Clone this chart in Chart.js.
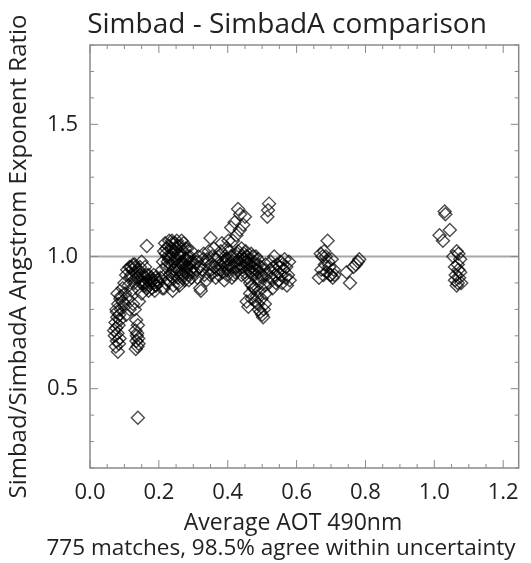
<!DOCTYPE html>
<html>
<head>
<meta charset="utf-8">
<script src="https://cdn.jsdelivr.net/npm/chart.js@4"></script>
<style>
  body { margin: 0; background: #fff; }
</style>
</head>
<body>
<canvas id="myChart" width="531" height="563"></canvas>
<script>
// matches, grouped by AOT range: [aot, ratio]
const lowAotColumn = [
  [0.075,0.66],[0.078,0.68],[0.072,0.70],[0.080,0.71],[0.076,0.73],[0.083,0.74],[0.074,0.75],
  [0.079,0.77],[0.085,0.78],[0.077,0.80],[0.082,0.82],[0.088,0.84],[0.080,0.86],[0.090,0.85],
  [0.086,0.69],[0.070,0.72],[0.081,0.64],[0.084,0.67],[0.090,0.80],[0.095,0.83],[0.078,0.79],
  [0.087,0.76],
  [0.133,0.65],[0.138,0.66],[0.135,0.68],[0.140,0.69],[0.136,0.70],[0.132,0.72],[0.139,0.74],
  [0.134,0.76],[0.141,0.67],[0.137,0.71],[0.139,0.39]
];
const risingAot = [
  [0.095,0.88],[0.100,0.90],[0.102,0.86],[0.105,0.93],[0.108,0.95],[0.110,0.84],[0.112,0.89],
  [0.115,0.96],[0.118,0.92],[0.120,0.87],[0.122,0.95],[0.125,0.97],[0.128,0.90],[0.130,0.94],
  [0.132,0.96],[0.135,0.92],[0.138,0.88],[0.140,0.95],[0.142,0.83],[0.145,0.93],[0.148,0.90],
  [0.150,0.86],[0.152,0.91],[0.155,0.93],[0.158,0.89],[0.160,0.92],[0.162,0.90],[0.165,1.04],
  [0.165,0.88],[0.168,0.91],[0.170,0.93],[0.172,0.89],[0.175,0.90],[0.178,0.92],[0.180,0.88],
  [0.182,0.91],[0.185,0.90],[0.188,0.87],[0.190,0.92],[0.192,0.89],[0.195,0.91],[0.198,0.90],
  [0.150,0.98],[0.125,0.82],[0.115,0.80],[0.105,0.78],[0.130,0.80],[0.145,0.96],[0.160,0.96],
  [0.170,0.87],[0.120,0.93],[0.100,0.82],[0.120,0.96],[0.130,0.97],[0.140,0.92],[0.155,0.90],
  [0.165,0.93],[0.175,0.91],[0.185,0.93],[0.190,0.89]
];
const denseAot = [
  [0.205,0.92],[0.210,0.95],[0.212,0.98],[0.215,1.02],[0.218,1.05],[0.220,0.90],[0.222,0.96],
  [0.225,1.00],[0.228,1.04],[0.230,1.06],[0.232,0.93],[0.235,0.97],[0.238,1.01],[0.240,1.05],
  [0.242,0.89],[0.245,0.95],[0.248,0.99],[0.250,1.03],[0.252,1.06],[0.255,0.92],[0.258,0.97],
  [0.260,1.00],[0.262,1.04],[0.265,0.94],[0.268,0.98],[0.270,1.02],[0.272,1.05],[0.275,0.91],
  [0.278,0.96],[0.280,0.99],[0.282,1.03],[0.285,0.93],[0.288,0.97],[0.290,1.00],[0.292,0.95],
  [0.295,0.92],[0.298,0.98],[0.300,0.96],[0.215,0.88],[0.228,0.91],[0.240,0.87],[0.260,0.89],
  [0.270,0.93],[0.250,0.96],[0.235,1.03],[0.220,1.01],[0.245,1.02],[0.255,1.01],[0.265,0.97],
  [0.275,0.99],[0.285,0.96],[0.210,0.88],
  [0.218,0.93],[0.222,1.03],[0.226,0.98],[0.232,1.00],[0.236,0.94],[0.238,1.06],[0.243,0.98],
  [0.247,1.05],[0.252,0.94],[0.256,1.04],[0.258,0.90],[0.263,1.01],[0.266,1.06],[0.268,0.92],
  [0.273,0.97],[0.277,1.03],[0.281,0.94],[0.284,1.00],[0.287,0.91],[0.291,0.98],[0.294,1.02],
  [0.297,0.94],[0.230,0.99],[0.250,0.99],[0.260,0.95],[0.240,0.92],
  [0.305,0.94],[0.310,0.98],[0.312,0.92],[0.315,1.00],[0.318,0.96],[0.320,0.88],[0.322,0.87],
  [0.325,0.95],[0.328,0.99],[0.330,1.01],[0.332,0.93],[0.335,0.97],[0.338,0.91],[0.340,0.99],
  [0.343,0.95],[0.345,1.02],[0.348,0.93],[0.350,1.07],[0.352,0.97],[0.355,1.00],[0.358,0.94],
  [0.360,1.03],[0.362,0.96],[0.365,0.92],[0.368,0.99]
];
const midAot = [
  [0.370,0.95],[0.372,1.00],[0.375,0.93],[0.378,0.97],[0.380,1.02],[0.383,1.05],[0.385,0.94],
  [0.388,0.98],[0.390,0.91],[0.392,1.00],[0.395,0.96],[0.398,0.93],[0.400,0.99],[0.402,1.06],
  [0.405,0.95],[0.408,0.97],[0.410,1.11],[0.412,0.92],[0.415,1.00],[0.418,0.96],[0.420,1.13],
  [0.422,0.94],[0.425,0.98],[0.428,1.01],[0.430,1.18],[0.432,0.95],[0.435,1.10],[0.436,1.16],
  [0.438,0.97],[0.440,0.93],[0.442,1.00],[0.445,0.96],[0.448,0.99],[0.450,0.94],[0.452,1.02],
  [0.455,0.97],[0.458,0.92],[0.460,0.99],[0.462,0.95],[0.465,0.90],[0.468,1.01],[0.470,0.96],
  [0.472,0.93],[0.475,0.98],[0.478,0.88],[0.480,0.95],[0.482,1.00],[0.485,0.92],[0.488,0.97],
  [0.490,0.94],[0.492,0.90],[0.495,0.96],[0.498,0.93],[0.440,1.03],[0.425,1.08],[0.415,1.06],
  [0.395,1.03],[0.405,1.02],[0.450,1.15],[0.445,1.12],
  [0.402,0.97],[0.410,1.00],[0.418,0.93],[0.425,0.96],[0.430,1.02],[0.435,0.99],[0.440,0.96],
  [0.447,1.01],[0.453,0.98],[0.457,1.00],[0.463,0.97],[0.467,0.94],[0.473,1.00],[0.478,0.97],
  [0.483,0.95],[0.487,0.99],[0.390,0.97],[0.380,0.95],[0.395,0.99],
  [0.455,0.83],[0.460,0.81],[0.465,0.86],[0.470,0.84],[0.475,0.88],[0.480,0.83],[0.485,0.85],
  [0.488,0.82],[0.490,0.80],[0.495,0.79],[0.498,0.84],[0.500,0.78],[0.503,0.77],[0.505,0.80],
  [0.508,0.82],[0.510,0.86],[0.470,0.89],[0.492,0.87]
];
const upperMidAot = [
  [0.500,0.92],[0.505,0.95],[0.508,0.89],[0.510,0.97],[0.513,0.93],[0.515,1.15],[0.517,1.175],
  [0.520,1.20],[0.520,0.90],[0.523,0.95],[0.525,0.98],[0.528,0.92],[0.530,0.88],[0.533,0.96],
  [0.535,1.00],[0.538,0.93],[0.540,0.90],[0.543,0.97],[0.545,0.94],[0.548,0.91],[0.550,0.96],
  [0.553,0.98],[0.555,0.93],[0.558,0.90],[0.560,0.97],[0.562,0.95],[0.565,0.99],[0.568,0.92],
  [0.570,0.96],[0.572,0.89],[0.575,0.93],[0.578,0.98],[0.580,0.91],
  [0.665,0.92],[0.670,1.01],[0.672,0.95],[0.675,1.00],[0.678,0.93],[0.680,1.02],[0.682,0.97],
  [0.685,1.00],[0.688,0.94],[0.690,1.06],[0.692,0.98],[0.695,0.96],[0.698,0.93],[0.700,0.93],
  [0.702,0.99],[0.705,0.92],[0.708,0.95],[0.710,0.93],
  [0.745,0.94],[0.755,0.90],[0.765,0.96],[0.772,0.97],[0.778,0.98],[0.782,0.99]
];
const highAot = [
  [1.015,1.08],[1.025,1.06],[1.030,1.17],[1.032,1.16],[1.045,1.10],[1.055,1.00],[1.060,0.96],
  [1.062,0.93],[1.065,1.02],[1.068,0.90],[1.070,1.01],[1.072,0.92],[1.075,0.94],[1.078,0.90],
  [1.065,0.89],[1.070,0.95],[1.060,0.91],[1.075,0.99],[1.068,0.97]
];
const refLine = [[0, 1.0], [1.245, 1.0]];
const chartTitle = 'Simbad - SimbadA comparison';
const xTitle = 'Average AOT 490nm';
const xNote = '775 matches, 98.5% agree within uncertainty';

const toPts = arr => arr.map(p => ({x: p[0], y: p[1]}));
const allMatches = [].concat(lowAotColumn, risingAot, denseAot, midAot, upperMidAot, highAot);

const FONT = "'Open Sans', sans-serif";
const AXIS_GREY = '#8a8a8a';

// the original page has its texts centred a bit left of the plot centre
const pageTexts = {
  id: 'pageTexts',
  afterDraw(chart) {
    const ctx = chart.ctx;
    ctx.save();
    ctx.fillStyle = '#222';
    ctx.textAlign = 'center';
    ctx.textBaseline = 'alphabetic';
    ctx.font = '28px ' + FONT;
    ctx.fillText(chartTitle, 287, 33);
    ctx.font = '23px ' + FONT;
    ctx.fillText(xTitle, 293, 530);
    ctx.font = '22.5px ' + FONT;
    ctx.fillText(xNote, 281, 555);
    ctx.restore();
  }
};

// IDL style box with inward ticks on all four sides
const boxTicks = {
  id: 'boxTicks',
  afterDraw(chart) {
    const {ctx, chartArea: a, scales: {x, y}} = chart;
    ctx.save();
    ctx.strokeStyle = AXIS_GREY;
    ctx.lineWidth = 1.5;
    ctx.strokeRect(a.left, a.top, a.right - a.left, a.bottom - a.top);
    ctx.lineWidth = 1;
    ctx.beginPath();
    x.ticks.forEach(t => {
      const px = x.getPixelForValue(t.value);
      const len = Math.abs(t.value / 0.2 - Math.round(t.value / 0.2)) < 1e-6 ? 8 : 4;
      ctx.moveTo(px, a.bottom); ctx.lineTo(px, a.bottom - len);
      ctx.moveTo(px, a.top); ctx.lineTo(px, a.top + len);
    });
    y.ticks.forEach(t => {
      const py = y.getPixelForValue(t.value);
      const len = Math.abs(t.value / 0.5 - Math.round(t.value / 0.5)) < 1e-6 ? 8 : 4;
      ctx.moveTo(a.left, py); ctx.lineTo(a.left + len, py);
      ctx.moveTo(a.right, py); ctx.lineTo(a.right - len, py);
    });
    ctx.stroke();
    ctx.restore();
  }
};

new Chart(document.getElementById('myChart').getContext('2d'), {
  data: {
    datasets: [
      {
        type: 'line',
        data: toPts(refLine),
        borderColor: '#a8a8a8',
        borderWidth: 2,
        pointRadius: 0,
        order: 2
      },
      {
        type: 'scatter',
        data: toPts(allMatches),
        pointStyle: 'rectRot',
        radius: 6.5,
        borderWidth: 1.4,
        borderColor: 'rgba(0,0,0,0.7)',
        backgroundColor: 'rgba(0,0,0,0)',
        order: 1
      }
    ]
  },
  options: {
    responsive: false,
    animation: false,
    layout: { padding: { left: 0, right: 9, top: 45, bottom: 0 } },
    plugins: {
      legend: { display: false },
      tooltip: { enabled: false },
      title: { display: false }
    },
    scales: {
      x: {
        type: 'linear',
        min: 0,
        max: 1.245,
        border: { display: false },
        grid: { display: false, drawTicks: false },
        ticks: {
          stepSize: 0.05,
          includeBounds: false,
          autoSkip: false,
          maxRotation: 0,
          padding: 12,
          color: '#222',
          font: { family: FONT, size: 22 },
          callback: v => Math.abs(v / 0.2 - Math.round(v / 0.2)) < 1e-6 ? v.toFixed(1) : ''
        },
        title: { display: false },
        afterFit: s => { s.height = 95; }
      },
      y: {
        min: 0.2,
        max: 1.8,
        border: { display: false },
        grid: { display: false, drawTicks: false },
        ticks: {
          stepSize: 0.1,
          autoSkip: false,
          padding: 12,
          color: '#222',
          font: { family: FONT, size: 22 },
          callback: v => Math.abs(v / 0.5 - Math.round(v / 0.5)) < 1e-6 ? v.toFixed(1) : ''
        },
        title: {
          display: true,
          text: 'Simbad/SimbadA Angstrom Exponent Ratio',
          color: '#222',
          font: { family: FONT, size: 24, lineHeight: 1.15 },
          padding: { top: 5, bottom: 0 }
        },
        afterFit: s => { s.width = 90; }
      }
    }
  },
  plugins: [boxTicks, pageTexts]
});
</script>
</body>
</html>
